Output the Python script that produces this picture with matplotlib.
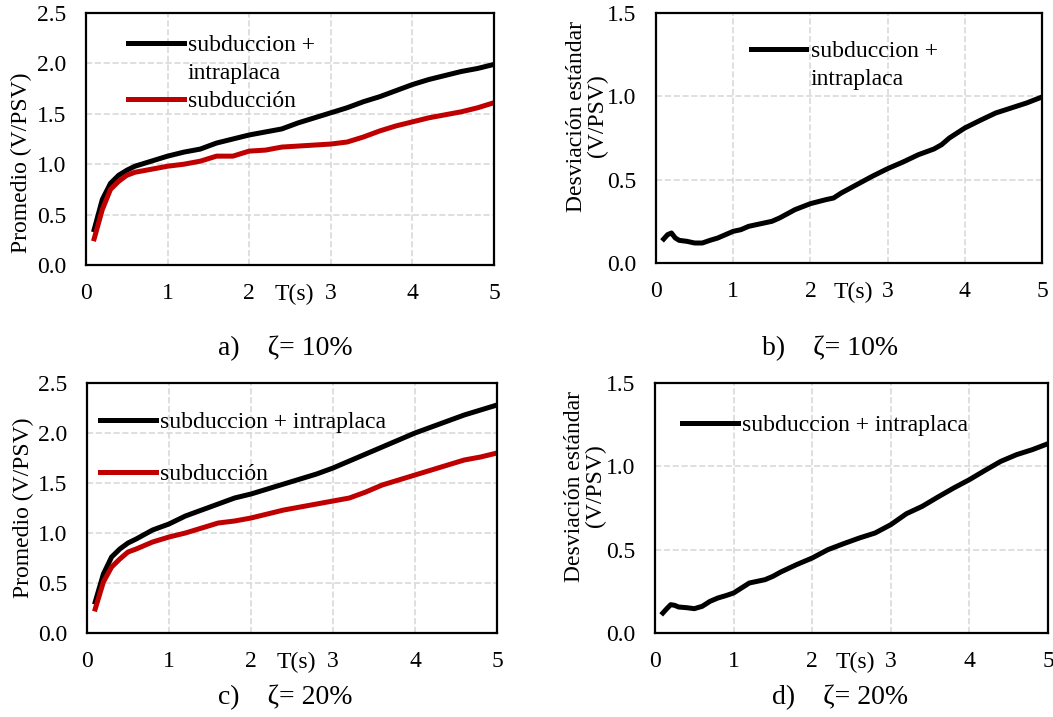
import matplotlib
matplotlib.use('Agg')
import matplotlib.pyplot as plt
from matplotlib.lines import Line2D

plt.rcParams['font.family'] = ['Liberation Serif', 'DejaVu Serif']

# Periods (s)
t_mean = [0.1, 0.2, 0.3, 0.4, 0.5, 0.6, 0.8, 1.0, 1.2, 1.4, 1.6, 1.8, 2.0, 2.2, 2.4,
          2.6, 2.8, 3.0, 3.2, 3.4, 3.6, 3.8, 4.0, 4.2, 4.4, 4.6, 4.8, 5.0]

# a) mean, zeta = 10%
mean10_si = [0.35, 0.65, 0.81, 0.89, 0.94, 0.98, 1.03, 1.08, 1.12, 1.15, 1.21, 1.25, 1.29, 1.32,
             1.35, 1.41, 1.46, 1.51, 1.56, 1.62, 1.67, 1.73, 1.79, 1.84, 1.88, 1.92, 1.95, 1.99]
mean10_s = [0.26, 0.55, 0.75, 0.83, 0.89, 0.92, 0.95, 0.98, 1.00, 1.03, 1.08, 1.08, 1.13, 1.14,
            1.17, 1.18, 1.19, 1.20, 1.22, 1.27, 1.33, 1.38, 1.42, 1.46, 1.49, 1.52, 1.56, 1.61]

# c) mean, zeta = 20%
mean20_si = [0.31, 0.59, 0.76, 0.84, 0.90, 0.94, 1.03, 1.09, 1.17, 1.23, 1.29, 1.35, 1.39, 1.44,
             1.49, 1.54, 1.59, 1.65, 1.72, 1.79, 1.86, 1.93, 2.00, 2.06, 2.12, 2.18, 2.23, 2.28]
mean20_s = [0.24, 0.51, 0.66, 0.74, 0.81, 0.84, 0.91, 0.96, 1.00, 1.05, 1.10, 1.12, 1.15, 1.19,
            1.23, 1.26, 1.29, 1.32, 1.35, 1.41, 1.48, 1.53, 1.58, 1.63, 1.68, 1.73, 1.76, 1.80]

# b) std, zeta = 10%
t_std10 = [0.1, 0.15, 0.2, 0.25, 0.3, 0.4, 0.5, 0.6, 0.7, 0.8, 0.9, 1.0, 1.1, 1.2, 1.4, 1.5, 1.6,
           1.8, 2.0, 2.2, 2.3, 2.4, 2.6, 2.8, 3.0, 3.2, 3.4, 3.6, 3.7, 3.8, 4.0, 4.2, 4.4, 4.6, 4.8, 5.0]
std10 = [0.144, 0.17, 0.18, 0.15, 0.136, 0.13, 0.12, 0.12, 0.136, 0.15, 0.17, 0.19, 0.20, 0.22,
         0.24, 0.25, 0.27, 0.32, 0.356, 0.38, 0.39, 0.42, 0.47, 0.52, 0.566, 0.606, 0.65, 0.684,
         0.71, 0.75, 0.81, 0.856, 0.90, 0.93, 0.96, 0.996]

# d) std, zeta = 20%
t_std20 = [0.1, 0.15, 0.2, 0.25, 0.3, 0.4, 0.5, 0.6, 0.7, 0.8, 0.9, 1.0, 1.1, 1.2, 1.3, 1.4, 1.5,
           1.6, 1.8, 2.0, 2.2, 2.4, 2.6, 2.8, 3.0, 3.2, 3.4, 3.6, 3.8, 4.0, 4.2, 4.4, 4.6, 4.8, 5.0]
std20 = [0.12, 0.146, 0.17, 0.166, 0.156, 0.152, 0.146, 0.16, 0.19, 0.21, 0.224, 0.24, 0.27, 0.30,
         0.31, 0.32, 0.34, 0.366, 0.41, 0.45, 0.50, 0.536, 0.57, 0.60, 0.65, 0.716, 0.76, 0.816,
         0.87, 0.92, 0.976, 1.03, 1.07, 1.10, 1.136]

lbl_si = 'subduccion + intraplaca'
lbl_s = 'subducción'
red = '#C00000'
LW = 3.6
FS = 17

fig = plt.figure(figsize=(10.53, 7.17), dpi=100)
W, H = 1053, 717


def make_ax(l, t, r, b):
    return fig.add_axes([l / W, 1 - b / H, (r - l) / W, (b - t) / H])


def style(ax, ymax, ystep):
    ax.set_xlim(0, 5)
    ax.set_ylim(0, ymax)
    ax.set_xticks(range(6))
    yt = [i * ystep for i in range(int(round(ymax / ystep)) + 1)]
    ax.set_yticks(yt)
    ax.set_yticklabels([f'{v:.1f}' for v in yt])
    ax.tick_params(axis='x', length=0, labelsize=FS, pad=13)
    ax.tick_params(axis='y', length=0, labelsize=FS, pad=14)
    ax.grid(True, color='#d9d9d9', linestyle='--', linewidth=1.2)
    for s in ax.spines.values():
        s.set_linewidth(1.6)
    ax.text(2.55, -0.075, 'T(s)', transform=ax.get_xaxis_transform(), ha='center',
            va='top', fontsize=FS)


def legend(ax, handles, labels, x, y, spacing=0.28):
    ax.legend(handles, labels, loc='upper left', bbox_to_anchor=(x, y), frameon=False,
              fontsize=FS, handlelength=2.35, handletextpad=0.18, labelspacing=spacing,
              borderpad=0, borderaxespad=0)


ax_a = make_ax(86, 13, 494, 265)
ax_b = make_ax(656, 13, 1042, 263)
ax_c = make_ax(87, 383, 497, 633)
ax_d = make_ax(655, 383, 1048, 633)

blank = Line2D([], [], color='none')

# a)
ax_a.plot(t_mean, mean10_si, color='black', lw=LW)
ax_a.plot(t_mean, mean10_s, color=red, lw=LW)
style(ax_a, 2.5, 0.5)
ax_a.set_ylabel('Promedio (V/PSV)', fontsize=FS)
ax_a.yaxis.set_label_coords(-0.132, 0.405)
legend(ax_a, [Line2D([], [], color='black', lw=LW), blank, Line2D([], [], color=red, lw=LW)],
       ['subduccion +', 'intraplaca', lbl_s], 0.103, 0.915)

# b)
ax_b.plot(t_std10, std10, color='black', lw=LW)
style(ax_b, 1.5, 0.5)
ax_b.set_ylabel('Desviación estándar\n(V/PSV)', fontsize=FS, linespacing=1.0)
ax_b.yaxis.set_label_coords(-0.125, 0.588)
legend(ax_b, [Line2D([], [], color='black', lw=LW), blank],
       ['subduccion +', 'intraplaca'], 0.246, 0.89)

# c)
ax_c.plot(t_mean, mean20_si, color='black', lw=LW)
ax_c.plot(t_mean, mean20_s, color=red, lw=LW)
style(ax_c, 2.5, 0.5)
ax_c.set_ylabel('Promedio (V/PSV)', fontsize=FS)
ax_c.yaxis.set_label_coords(-0.13, 0.5)
legend(ax_c, [Line2D([], [], color='black', lw=LW), Line2D([], [], color=red, lw=LW)],
       [lbl_si, lbl_s], 0.032, 0.885, spacing=1.3)

# d)
ax_d.plot(t_std20, std20, color='black', lw=LW)
style(ax_d, 1.5, 0.5)
ax_d.set_ylabel('Desviación estándar\n(V/PSV)', fontsize=FS, linespacing=1.0)
ax_d.yaxis.set_label_coords(-0.125, 0.588)
legend(ax_d, [Line2D([], [], color='black', lw=LW)], [lbl_si], 0.069, 0.873)

# captions
CFS = 20
fig.text(285 / W, 1 - 348 / H, 'a)    ζ= 10%', ha='center', va='center', fontsize=CFS)
fig.text(830 / W, 1 - 348 / H, 'b)    ζ= 10%', ha='center', va='center', fontsize=CFS)
fig.text(285 / W, 1 - 697 / H, 'c)    ζ= 20%', ha='center', va='center', fontsize=CFS)
fig.text(840 / W, 1 - 697 / H, 'd)    ζ= 20%', ha='center', va='center', fontsize=CFS)

fig.savefig('out.png', dpi=100)
